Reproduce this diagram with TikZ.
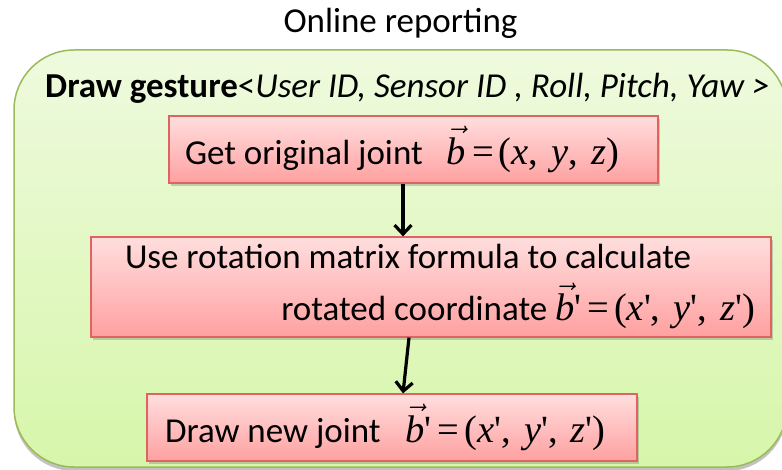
\RequirePackage{fix-cm}
\documentclass[tikz,border=0pt]{standalone}
\usepackage{fontspec}
\setmainfont{Carlito}
\newfontfamily\tms{Liberation Serif}
\usetikzlibrary{arrows.meta,shadows}

\definecolor{panelEdge}{RGB}{155,187,89}
\definecolor{panelTop}{RGB}{238,250,222}
\definecolor{panelBot}{RGB}{215,246,170}
\definecolor{stepEdge}{RGB}{222,100,98}
\definecolor{stepTop}{RGB}{255,222,222}
\definecolor{stepBot}{RGB}{255,160,160}

% vector b, prime and the formula font
\newcommand\vb{$\vec{\hbox{\itshape b}}$}
\newcommand\pr{\char"0027\relax}
\newcommand\eqfont{\tms\fontsize{38.5}{42}\selectfont}
\newcommand\eqs{\hspace{6pt}=\hspace{5pt}}
\newcommand\cm{,\hspace{13pt}}

\begin{document}
\begin{tikzpicture}[x=1pt,y=-1pt,
  txt/.style={font=\fontsize{35}{42}\selectfont, inner sep=0pt},
  panel/.style={draw=panelEdge, line width=1.5pt, rounded corners=60pt,
    top color=panelTop, bottom color=panelBot,
    drop shadow={shadow xshift=0pt, shadow yshift=-4pt, opacity=0.4, fill=black!60}},
  stepbox/.style={draw=stepEdge, line width=1.2pt, top color=stepTop, bottom color=stepBot,
    drop shadow={shadow xshift=2pt, shadow yshift=-3pt, opacity=0.3, fill=black!60},
    inner xsep=0pt, inner ysep=0pt, font=\fontsize{35}{42}\selectfont, align=flush left},
  flow/.style={line width=3.2pt, -{Straight Barb[length=9pt,width=17pt]}}
]
\useasboundingbox (0,0) rectangle (782,470);

% outer panel
\node[panel, minimum width=773pt, minimum height=417pt] (panel) at (400.5,258.5) {};
\node[txt, anchor=base] (title) at (400.5,33) {Online reporting};
\node[txt, anchor=base west] (hdr) at (45,98)
  {\textbf{Draw gesture}<\textit{User ID, Sensor ID , Roll, Pitch, Yaw >}};

% steps
\node[stepbox, minimum width=489pt, minimum height=67pt, text width=457pt] (b1) at (413.5,149.5)
  {Get original joint\hspace{24pt}{\eqfont\vb\eqs(\textit{x}\cm\textit{y}\cm\textit{z})}};

\node[stepbox, minimum width=680pt, minimum height=100pt, text width=648pt] (b2) at (431,287)
  {\vspace*{10pt}\hspace*{18pt}Use rotation matrix formula to calculate\\
   \hspace*{\fill}rotated coordinate {\eqfont\vb\pr\eqs(\textit{x}\pr\cm\textit{y}\pr\cm\textit{z}\pr)}};

\node[stepbox, minimum width=490pt, minimum height=67pt, text width=454pt] (b3) at (392,427.5)
  {Draw new joint\hspace{25pt}{\eqfont\vb\pr\eqs(\textit{x}\pr\cm\textit{y}\pr\cm\textit{z}\pr)}};

% connectors
\draw[flow] ([xshift=-10.5pt]b1.south) -- ([xshift=-28pt]b2.north);
\draw[flow] ([xshift=-22pt]b2.south) -- ([xshift=11pt]b3.north);
\end{tikzpicture}
\end{document}
